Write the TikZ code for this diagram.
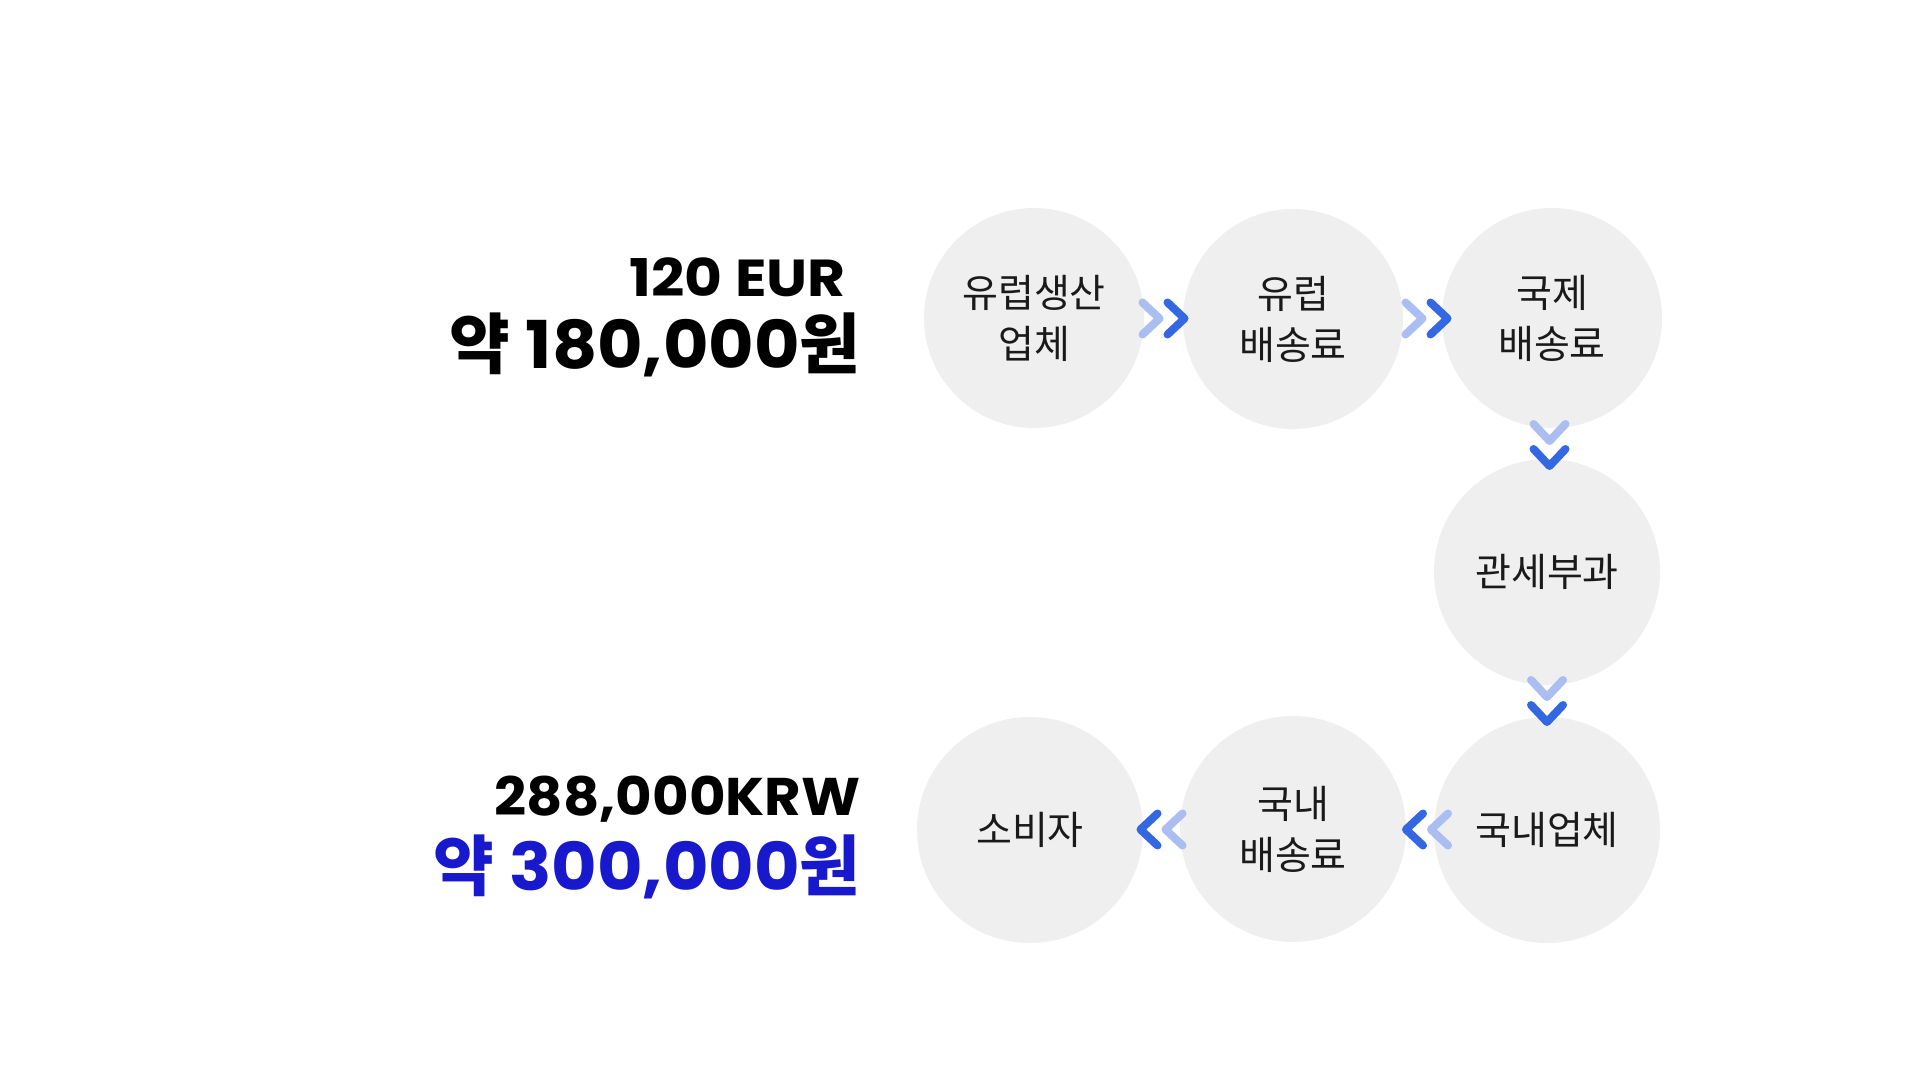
\documentclass[tikz,border=0pt]{standalone}
\usepackage{fontspec}
\setmainfont{Noto Sans CJK KR}
\newfontfamily\pop[FakeStretch=1.06]{Poppins}
\newfontfamily\popwide[FakeStretch=1.12]{Poppins}
\usetikzlibrary{calc}
\definecolor{circlegray}{RGB}{239,239,239}
\definecolor{chevdark}{RGB}{52,104,226}
\definecolor{chevlight}{RGB}{170,190,242}
\definecolor{priceblue}{RGB}{24,24,204}
\definecolor{labeltext}{RGB}{26,26,26}
\tikzset{
  stage/.style={circle,fill=circlegray,minimum size=110pt,inner sep=0pt,align=center,
    text=labeltext,font=\fontsize{19.5}{25.5}\selectfont},
  bigstage/.style={stage,minimum size=113pt},
  price/.style={anchor=base east,inner sep=0pt},
  chevs/.pic={
    \draw[chevlight,line width=4pt,line cap=round,line join=round] (-21,-16) -- (-4,0) -- (-21,16);
    \draw[chevdark,line width=4pt,line cap=round,line join=round] (4,-16) -- (21,0) -- (4,16);
  }
}
\begin{document}
\begin{tikzpicture}[x=0.5pt,y=-0.5pt]
\useasboundingbox[fill=white] (0,0) rectangle (1920,1080);
% prices
\node[price,font=\popwide\bfseries\fontsize{26}{30}\selectfont] (eur) at (846,297) {120 EUR};
\node[price,font=\bfseries\fontsize{33}{40}\selectfont] (wontop) at (861,368) {약 {\pop 180,000}원};
\node[price,font=\pop\bfseries\fontsize{26.5}{30}\selectfont] (krw) at (861,815) {288,000KRW};
\node[price,text=priceblue,font=\bfseries\fontsize{33}{40}\selectfont] (wonbot) at (861,890) {약 {\pop 300,000}원};
% stages
\node[stage] (maker) at (1034,318) {유럽생산\\업체};
\node[stage] (eushipping) at (1293,319) {유럽\\배송료};
\node[stage] (intlshipping) at (1552,318) {국제\\배송료};
\node[bigstage] (customs) at (1547,572) {관세부과};
\node[bigstage] (importer) at (1547,830) {국내업체};
\node[bigstage] (krshipping) at (1293,829) {국내\\배송료};
\node[bigstage] (consumer) at (1030,830) {소비자};
% chevrons
\pic at ($(maker)!0.5!(eushipping)$) {chevs};
\pic at ($(eushipping)!0.5!(intlshipping)+(4,0)$) {chevs};
\pic[rotate=-90] at ($(intlshipping)!0.5!(customs)$) {chevs};
\pic[rotate=-90] at ($(customs)!0.5!(importer)$) {chevs};
\pic[rotate=180] at ($(importer)!0.5!(krshipping)+(7,0)$) {chevs};
\pic[rotate=180] at ($(krshipping)!0.5!(consumer)$) {chevs};
\end{tikzpicture}
\end{document}
